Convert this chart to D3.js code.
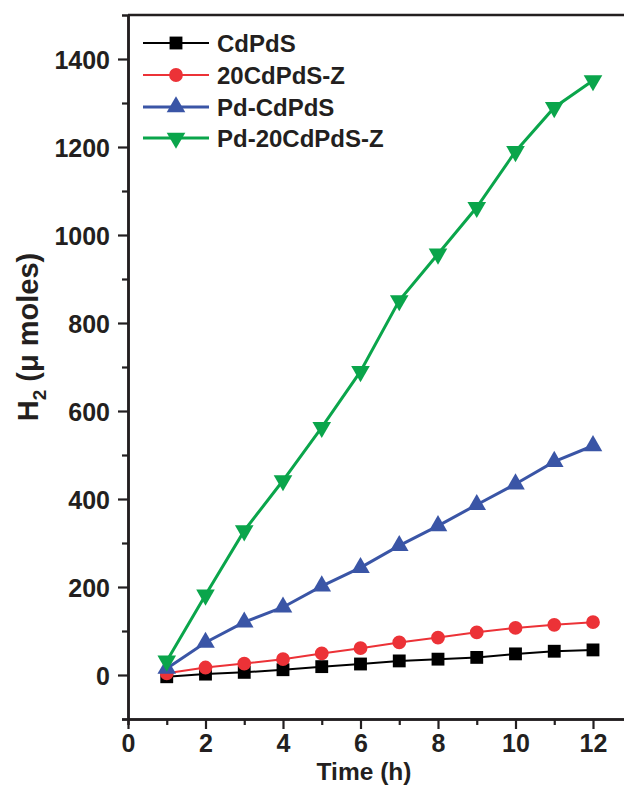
<!DOCTYPE html>
<html>
<head>
<meta charset="utf-8">
<script src="https://cdn.jsdelivr.net/npm/d3@7/dist/d3.min.js"></script>
<style>
  html, body { margin: 0; padding: 0; background: #fff; overflow: hidden; }
  svg { display: block; }
  text { font-family: "Liberation Sans", Arial, sans-serif; font-weight: bold; fill: #231f20; }
</style>
</head>
<body>
<div id="chart"></div>
<script>
// Hydrogen evolution over time for four photocatalysts
const hours = [1, 2, 3, 4, 5, 6, 7, 8, 9, 10, 11, 12];
const cdpds        = [-4, 2, 6, 12, 19, 25, 32, 36, 40, 48, 54, 57];
const cdpds20z     = [4, 17, 26, 36, 49, 61, 74, 85, 97, 107, 114, 120];
const pdCdpds      = [15, 74, 120, 154, 202, 244, 294, 339, 387, 434, 485, 521];
const pdCdpds20z   = [32, 182, 328, 442, 563, 690, 851, 957, 1063, 1190, 1290, 1351];

const seriesNames = ["CdPdS", "20CdPdS-Z", "Pd-CdPdS", "Pd-20CdPdS-Z"];
const xMajorTicks = [0, 2, 4, 6, 8, 10, 12];
const xMinorTicks = [1, 3, 5, 7, 9, 11];
const yMajorTicks = [0, 200, 400, 600, 800, 1000, 1200, 1400];
const yMinorTicks = [-100, 100, 300, 500, 700, 900, 1100, 1300];

const series = [
  { name: seriesNames[0], values: cdpds,      color: "#000000", symbol: d3.symbolSquare,   size: 165, rot: 0,   width: 2 },
  { name: seriesNames[1], values: cdpds20z,   color: "#ec3237", symbol: d3.symbolCircle,   size: 150, rot: 0,   width: 2 },
  { name: seriesNames[2], values: pdCdpds,    color: "#3a55a6", symbol: d3.symbolTriangle, size: 150, rot: 0,   width: 3 },
  { name: seriesNames[3], values: pdCdpds20z, color: "#0aa54b", symbol: d3.symbolTriangle, size: 150, rot: 180, width: 3 }
];

const W = 640, H = 785;
const x = d3.scaleLinear().domain([0, 13]).range([128, 631.75]);
const y = d3.scaleLinear().domain([-100, 1500]).range([719, 15]);

const svg = d3.select("#chart").append("svg").attr("width", W).attr("height", H);

// frame (top and right edges)
svg.append("path")
  .attr("d", `M${x(0)},${y(1500)}H${x(13)}V${y(-100)}`)
  .attr("fill", "none").attr("stroke", "#231f20").attr("stroke-width", 2.5);

// axes
const axisStyle = g => {
  g.select(".domain").attr("stroke", "#231f20").attr("stroke-width", 2.5);
  g.selectAll(".tick line").attr("stroke", "#231f20").attr("stroke-width", 2.2);
  g.selectAll(".tick text").attr("fill", "#231f20")
    .style("font-size", "25px").style("font-weight", "bold")
    .style("font-family", "'Liberation Sans', Arial, sans-serif");
};

svg.append("g").attr("transform", `translate(0,${y(-100)})`)
  .call(d3.axisBottom(x).tickValues(xMinorTicks).tickSize(6).tickFormat(""))
  .call(axisStyle);
svg.append("g").attr("transform", `translate(0,${y(-100)})`)
  .call(d3.axisBottom(x).tickValues(xMajorTicks).tickSize(10).tickSizeOuter(0).tickPadding(5).tickFormat(d3.format("d")))
  .call(axisStyle);

svg.append("g").attr("transform", `translate(${x(0)},0)`)
  .call(d3.axisLeft(y).tickValues(yMinorTicks).tickSize(6).tickFormat(""))
  .call(axisStyle);
svg.append("g").attr("transform", `translate(${x(0)},0)`)
  .call(d3.axisLeft(y).tickValues(yMajorTicks).tickSize(10).tickSizeOuter(0).tickPadding(8).tickFormat(d3.format("d")))
  .call(axisStyle)
  .selectAll(".tick text").attr("dy", "0.36em");

// axis titles
svg.append("text")
  .attr("x", 364).attr("y", 779.5)
  .attr("text-anchor", "middle")
  .style("font-size", "24.5px")
  .text("Time (h)");

const yt = svg.append("text")
  .attr("transform", `translate(38,337) rotate(-90)`)
  .attr("text-anchor", "middle")
  .style("font-size", "29px");
yt.append("tspan").text("H");
yt.append("tspan").attr("dy", 8).style("font-size", "19px").text("2");
yt.append("tspan").attr("dy", -8).text(" (\u03BC moles)");

// lines and markers
const line = d3.line().x((d, i) => x(hours[i])).y(d => y(d));

series.forEach(s => {
  const g = svg.append("g");
  g.append("path").datum(s.values)
    .attr("d", line)
    .attr("fill", "none").attr("stroke", s.color).attr("stroke-width", s.width);
  g.selectAll("path.m").data(s.values).enter().append("path")
    .attr("class", "m")
    .attr("d", d3.symbol().type(s.symbol).size(s.size))
    .attr("transform", (d, i) => `translate(${x(hours[i])},${y(d)}) rotate(${s.rot})`)
    .attr("fill", s.color);
});

// legend
const legend = svg.append("g");
const legendRows = [43, 75, 107, 138];
series.forEach((s, i) => {
  const g = legend.append("g").attr("transform", `translate(0,${legendRows[i]})`);
  g.append("line").attr("x1", 143).attr("x2", 209).attr("y1", 0).attr("y2", 0)
    .attr("stroke", s.color).attr("stroke-width", s.width);
  g.append("path")
    .attr("d", d3.symbol().type(s.symbol).size(s.size))
    .attr("transform", `translate(176,0) rotate(${s.rot})`)
    .attr("fill", s.color);
  g.append("text").attr("x", 217).attr("y", 0).attr("dy", "0.36em")
    .style("font-size", "24px")
    .text(s.name);
});
</script>
</body>
</html>
